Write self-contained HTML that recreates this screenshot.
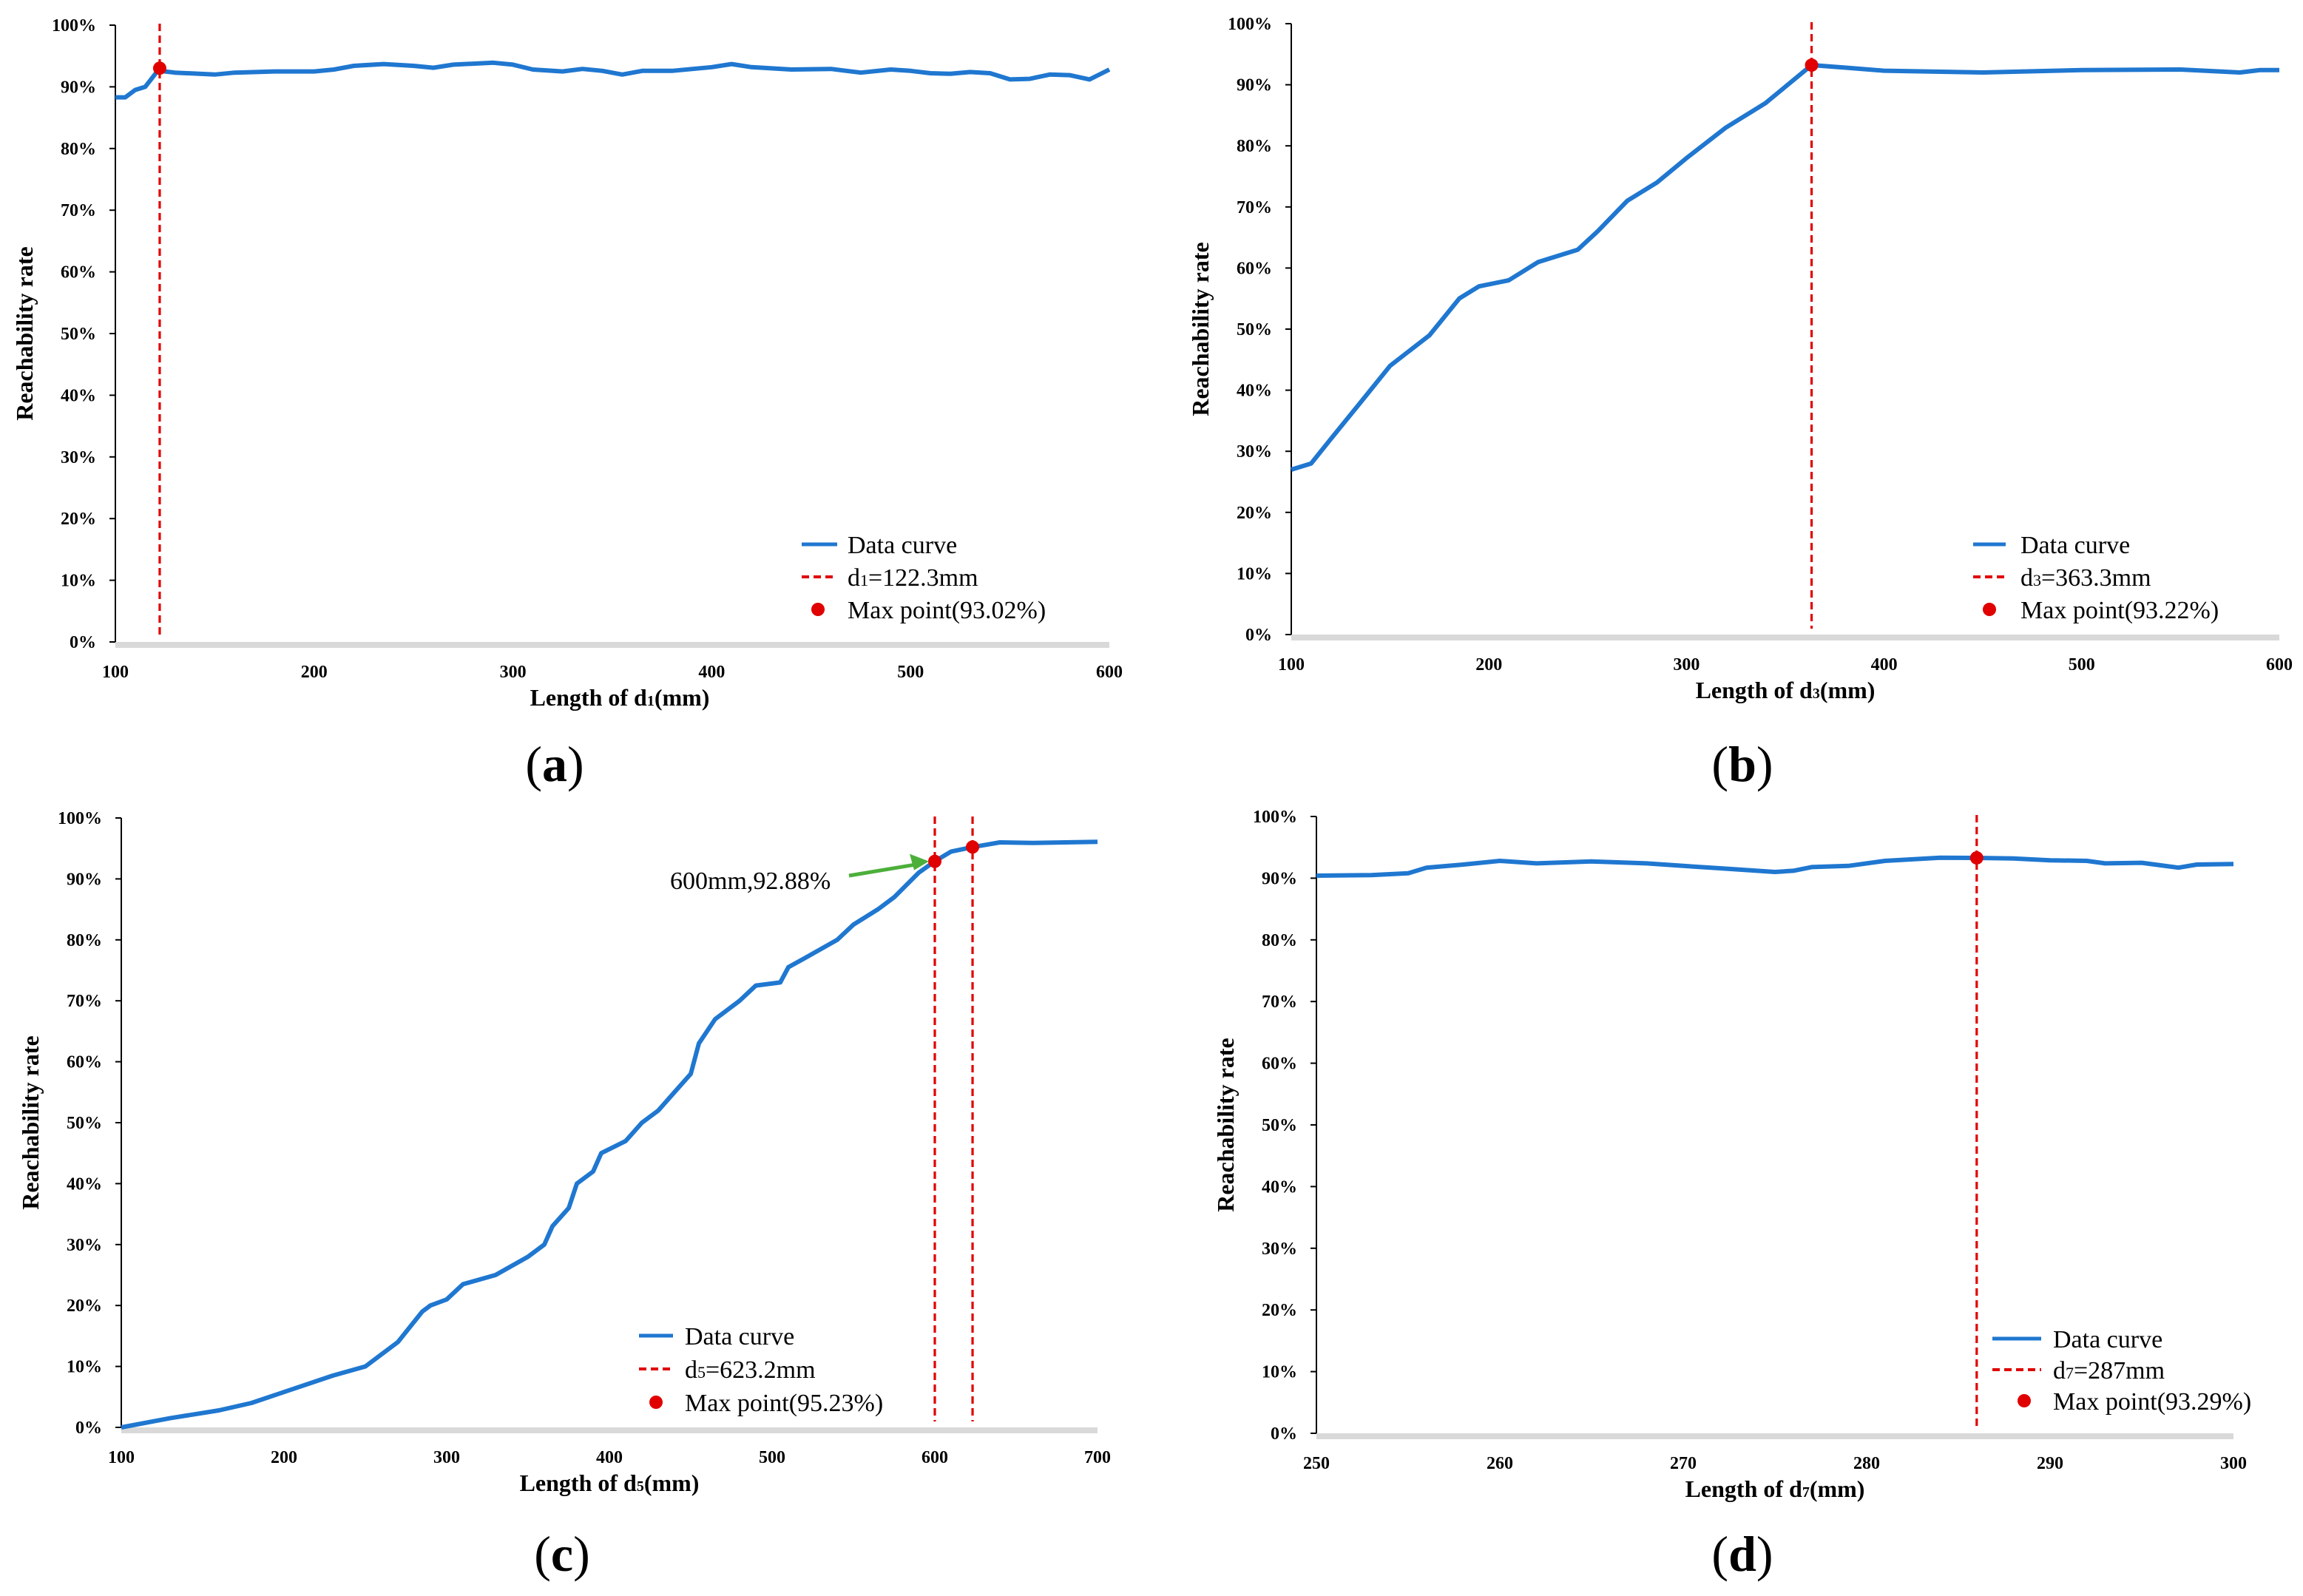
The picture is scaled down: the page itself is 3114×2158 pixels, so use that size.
<!DOCTYPE html>
<html><head><meta charset="utf-8">
<style>
html,body{margin:0;padding:0;background:#fff;}
svg{display:block;}
.tick{font-family:"Liberation Serif",serif;font-weight:bold;font-size:12px;fill:#000;}
.atitle{font-family:"Liberation Serif",serif;font-weight:bold;font-size:16px;fill:#000;}
.leg{font-family:"Liberation Serif",serif;font-size:17px;fill:#000;}
.plabel{font-family:"Liberation Serif",serif;font-size:34px;fill:#000;}
</style></head>
<body>
<svg id="fig" width="3114" height="2158" viewBox="0 0 1557 1079" xmlns="http://www.w3.org/2000/svg"></svg>
<script>
// Panel (a)
const aX = [100,105,110,115,122.3,125,130,150,160,180,200,210,220,235,250,260,270,290,300,310,325,335,345,355,365,380,400,410,420,440,460,475,490,500,510,520,530,540,550,560,570,580,590,600];
const aY = [88.3,88.3,89.5,90,93.02,92.5,92.3,92,92.3,92.5,92.5,92.8,93.4,93.7,93.4,93.1,93.6,93.9,93.6,92.8,92.5,92.9,92.6,92,92.6,92.6,93.2,93.7,93.2,92.8,92.9,92.3,92.8,92.6,92.2,92.1,92.4,92.2,91.2,91.3,92,91.9,91.2,92.8];
// Panel (b)
const bX = [100,110,120,135,150,170,185,195,210,225,245,255,270,285,300,320,340,363.3,380,400,450,500,550,580,590,600];
const bY = [27,28,32,38,44,49,55,57,58,61,63,66,71,74,78,83,87,93.22,92.8,92.3,92,92.4,92.5,92,92.4,92.4];
// Panel (c)
const cX = [100,130,160,180,200,230,250,270,285,290,300,310,330,350,360,365,375,380,390,395,410,420,430,440,450,455,465,480,490,505,510,520,540,550,565,575,590,600,610,623.2,640,660,700];
const cY = [0,1.5,2.8,4,5.8,8.5,10,14,19,20,21,23.5,25,28,30,33,36,40,42,45,47,50,52,55,58,63,67,70,72.5,73,75.5,77,80,82.5,85,87,91,92.88,94.5,95.23,96,95.9,96.1];
// Panel (d)
const dX = [250,253,255,256,258,260,262,265,268,270,272,275,276,277,279,281,284,286,288,290,292,293,295,297,298,300];
const dY = [90.4,90.5,90.8,91.7,92.2,92.8,92.4,92.7,92.4,92,91.6,91,91.2,91.8,92,92.8,93.3,93.29,93.2,92.9,92.8,92.4,92.5,91.7,92.2,92.3];
const yTicks = [0,10,20,30,40,50,60,70,80,90,100];
const aXT=[100,200,300,400,500,600], bXT=[100,200,300,400,500,600], cXT=[100,200,300,400,500,600,700], dXT=[250,260,270,280,290,300];

const NS="http://www.w3.org/2000/svg";
const fig=document.getElementById('fig');
function mk(tag,attrs,parent,text){const e=document.createElementNS(NS,tag);for(const k in attrs)e.setAttribute(k,attrs[k]);if(text!==undefined)e.textContent=text;(parent||fig).appendChild(e);return e;}

function panel(p){
  const g=mk('g',{});
  
  
  const sx=v=>p.x0+(v-p.xmin)/(p.xmax-p.xmin)*(p.x1-p.x0);
  const sy=v=>p.y0-(v/100)*(p.y0-p.y1);
  const band=mk('rect',{x:p.x0,y:p.y0,width:p.x1-p.x0,height:4,fill:'#d9d9d9'},g);
  
  
  const ax=mk('line',{x1:p.x0,y1:p.y1,x2:p.x0,y2:p.y0,stroke:'#000','stroke-width':1},g);
  
  
  yTicks.forEach(t=>{
    mk('line',{x1:p.x0-4,x2:p.x0,y1:sy(t),y2:sy(t),stroke:'#000','stroke-width':1},g);
    const l=mk('text',{x:p.x0-13,y:sy(t)+4,'text-anchor':'end',class:'tick'},g,t+'%');
    
    
  });
  p.xt.forEach(t=>{
    const l=mk('text',{x:sx(t),y:p.y0+24,'text-anchor':'middle',class:'tick'},g,t);
    
    
  });
  const yt=mk('text',{x:0,y:0,'text-anchor':'middle',class:'atitle',transform:`translate(${p.x0-56},${(p.y0+p.y1)/2}) rotate(-90)`},g,'Reachability rate');
  
  
  const xt=mk('text',{x:(p.x0+p.x1)/2+p.tdx,y:p.y0+43,'text-anchor':'middle',class:'atitle'},g);
  
  
  mk('tspan',{},xt,'Length of d');
  mk('tspan',{'font-size':'10'},xt,p.sub);
  mk('tspan',{},xt,'(mm)');
  const pts=p.xs.map((v,i)=>sx(v).toFixed(1)+','+sy(p.ys[i]).toFixed(1)).join(' ');
  const c=mk('polyline',{points:pts,fill:'none',stroke:'#1f77d0','stroke-width':3,'stroke-linejoin':'round'},g);
  
  
  p.marks.forEach(m=>{
    const v=mk('line',{x1:sx(m[0]),x2:sx(m[0]),y1:p.y1-1,y2:p.y0-4,stroke:'#e00000','stroke-width':1.6,'stroke-dasharray':'5,3'},g);
    
    
    const d=mk('circle',{cx:sx(m[0]),cy:sy(m[1]),r:4.5,fill:'#e00000'},g);
    
    
  });
  const L=p.leg;
  const lg=mk('g',{},g);
  
  
  mk('line',{x1:L.lx,x2:L.lx+L.lw,y1:L.y,y2:L.y,stroke:'#1f77d0','stroke-width':2.5},lg);
  mk('text',{x:L.tx,y:L.y+6,class:'leg'},lg,'Data curve');
  mk('line',{x1:L.lx,x2:L.lx+L.lw,y1:L.y+L.dy,y2:L.y+L.dy,stroke:'#e00000','stroke-width':2,'stroke-dasharray':'5,3'},lg);
  const t2=mk('text',{x:L.tx,y:L.y+L.dy+6,class:'leg'},lg);
  mk('tspan',{},t2,'d');mk('tspan',{'font-size':'11'},t2,p.sub);mk('tspan',{},t2,'='+L.val);
  mk('circle',{cx:L.lx+L.lw/2+L.dotdx,cy:L.y+2*L.dy,r:4.5,fill:'#e00000'},lg);
  mk('text',{x:L.tx,y:L.y+2*L.dy+6,class:'leg'},lg,'Max point('+L.max+')');
  const pl=mk('text',{x:p.lab[0],y:p.lab[1],'text-anchor':'middle',class:'plabel'},g);
  
  
  mk('tspan',{},pl,'(');mk('tspan',{'font-weight':'bold'},pl,p.letter);mk('tspan',{},pl,')');
  return {sx,sy,g};
}

panel({name:'panel-a',x0:78,x1:750,y0:434,y1:17,xmin:100,xmax:600,xs:aX,ys:aY,xt:aXT,sub:'1',tdx:5,
  marks:[[122.3,93.02]],leg:{lx:542,lw:24,tx:573,y:368,dy:22,val:'122.3mm',max:'93.02%',dotdx:-1},lab:[375,528],letter:'a'});
panel({name:'panel-b',x0:873,x1:1541,y0:429,y1:16,xmin:100,xmax:600,xs:bX,ys:bY,xt:bXT,sub:'3',tdx:0,
  marks:[[363.3,93.22]],leg:{lx:1334,lw:22,tx:1366,y:368,dy:22,val:'363.3mm',max:'93.22%',dotdx:0},lab:[1178,528],letter:'b'});
const pc=panel({name:'panel-c',x0:82,x1:742,y0:965,y1:553,xmin:100,xmax:700,xs:cX,ys:cY,xt:cXT,sub:'5',tdx:0,
  marks:[[600,92.88],[623.2,95.23]],leg:{lx:432,lw:23,tx:463,y:903,dy:22.5,val:'623.2mm',max:'95.23%',dotdx:0},lab:[380,1062],letter:'c'});
panel({name:'panel-d',x0:890,x1:1510,y0:969,y1:552,xmin:250,xmax:300,xs:dX,ys:dY,xt:dXT,sub:'7',tdx:0,
  marks:[[286,93.29]],leg:{lx:1347,lw:33,tx:1388,y:905,dy:21,val:'287mm',max:'93.29%',dotdx:5},lab:[1178,1062],letter:'d'});

const ann=mk('text',{x:453,y:601,class:'leg'},pc.g,'600mm,92.88%');


const ar=mk('line',{x1:574,y1:592,x2:pc.sx(600)-12,y2:pc.sy(92.88)+2,stroke:'#4caf3a','stroke-width':2.5},pc.g);


const ax2=pc.sx(600)-4, ay2=pc.sy(92.88);
const ah=mk('polygon',{points:`${ax2},${ay2} ${ax2-13},${ay2-5} ${ax2-10},${ay2+6}`,fill:'#4caf3a'},pc.g);


</script>
</body></html>
